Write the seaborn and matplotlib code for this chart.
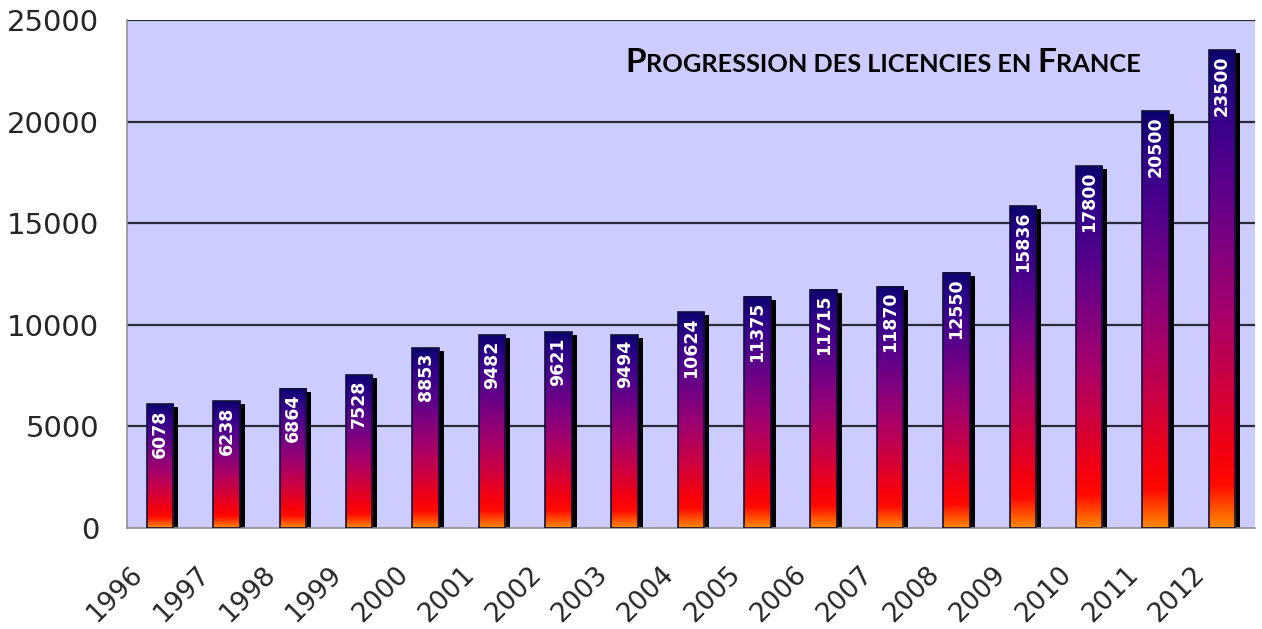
import numpy as np
import seaborn as sns
import matplotlib
matplotlib.use("Agg")
from matplotlib import pyplot as plt
from matplotlib.colors import LinearSegmentedColormap
from matplotlib.patches import Rectangle
from matplotlib.transforms import ScaledTranslation

# data
years = ['1996', '1997', '1998', '1999', '2000', '2001', '2002', '2003', '2004',
         '2005', '2006', '2007', '2008', '2009', '2010', '2011', '2012']
licences = [6078, 6238, 6864, 7528, 8853, 9482, 9621, 9494, 10624,
            11375, 11715, 11870, 12550, 15836, 17800, 20500, 23500]

sns.set_style("white")
plt.rcParams['font.family'] = ['DejaVu Sans']

fig = plt.figure(figsize=(12.62, 6.29), dpi=100)
ax = fig.add_axes([0.1006, 0.1606, 0.8939, 0.8076])
ax.set_facecolor('#ccccff')

sns.barplot(x=years, y=licences, width=0.4, color='#600090', ax=ax, zorder=4)

# gradient from orange at the bottom to navy at the top of every bar
grad_cmap = LinearSegmentedColormap.from_list('licences', [
    (0.0, '#ff8a00'), (0.09, '#ff0a00'), (0.16, '#f20010'), (0.3, '#cc0040'),
    (0.45, '#a6006a'), (0.6, '#7c0080'), (0.75, '#52008c'), (0.9, '#2c0088'),
    (1.0, '#0c006e')])
grad = np.linspace(0, 1, 256).reshape(-1, 1)

shadow_off = ScaledTranslation(5 / 100, -3 / 100, fig.dpi_scale_trans)
for p, v in zip(ax.patches, licences):
    x0, w, h = p.get_x(), p.get_width(), p.get_height()
    sh = Rectangle((x0, 0), w, h, facecolor='black', edgecolor='none',
                   transform=ax.transData + shadow_off, zorder=2)
    ax.add_patch(sh)
    im = ax.imshow(grad, extent=[x0, x0 + w, 0, h], origin='lower', aspect='auto',
                   cmap=grad_cmap, zorder=3, interpolation='bilinear')
    p.set_facecolor('none')
    p.set_edgecolor('#10103a')
    p.set_linewidth(1.2)
    ax.text(x0 + w / 2, h, str(v), rotation=90, ha='center', va='top', color='white',
            fontsize=12.5, fontweight='bold', zorder=5,
            transform=ax.transData + ScaledTranslation(0, -5 / 100, fig.dpi_scale_trans))

ax.set_xlim(-0.5, len(years) - 0.5)
ax.set_ylim(0, 25000)
ax.set_yticks(range(0, 25001, 5000))
ax.tick_params(axis='y', labelsize=21, length=10, width=1.2, color='#909090', pad=10)

ax.set_xticks(range(len(years)))
ax.set_xticklabels(years, rotation=45, ha='right', fontsize=19)
ax.set_xticks(np.arange(-0.5, len(years)), minor=True)
ax.tick_params(axis='x', which='major', length=0, pad=24)
ax.tick_params(axis='x', which='minor', length=6.5, width=1.2, color='#909090', direction='out')
lab_off = ScaledTranslation(-12 / 100, 0, fig.dpi_scale_trans)
for lab in ax.get_xticklabels():
    lab.set_transform(lab.get_transform() + lab_off)

for y in range(5000, 25001, 5000):
    ax.axhline(y, color='#2a2a3a', lw=1.6, zorder=1)

for s in ['top', 'right']:
    ax.spines[s].set_visible(False)
for s in ['left', 'bottom']:
    ax.spines[s].set_color('#909090')
    ax.spines[s].set_linewidth(1.2)

# title in small caps, built piece by piece
pieces = [('P', 24), ('ROGRESSION DES LICENCIES EN ', 18.3), ('F', 24), ('RANCE', 18.3)]
renderer = fig.canvas.get_renderer()
x = 625
for txt, size in pieces:
    t = fig.text(x / 1262, 1 - 72 / 629, txt, fontsize=size, fontweight='bold',
                 family='Lato', ha='left', va='baseline', color='black')
    x = t.get_window_extent(renderer).x1

fig.savefig('out.png', dpi=100)
